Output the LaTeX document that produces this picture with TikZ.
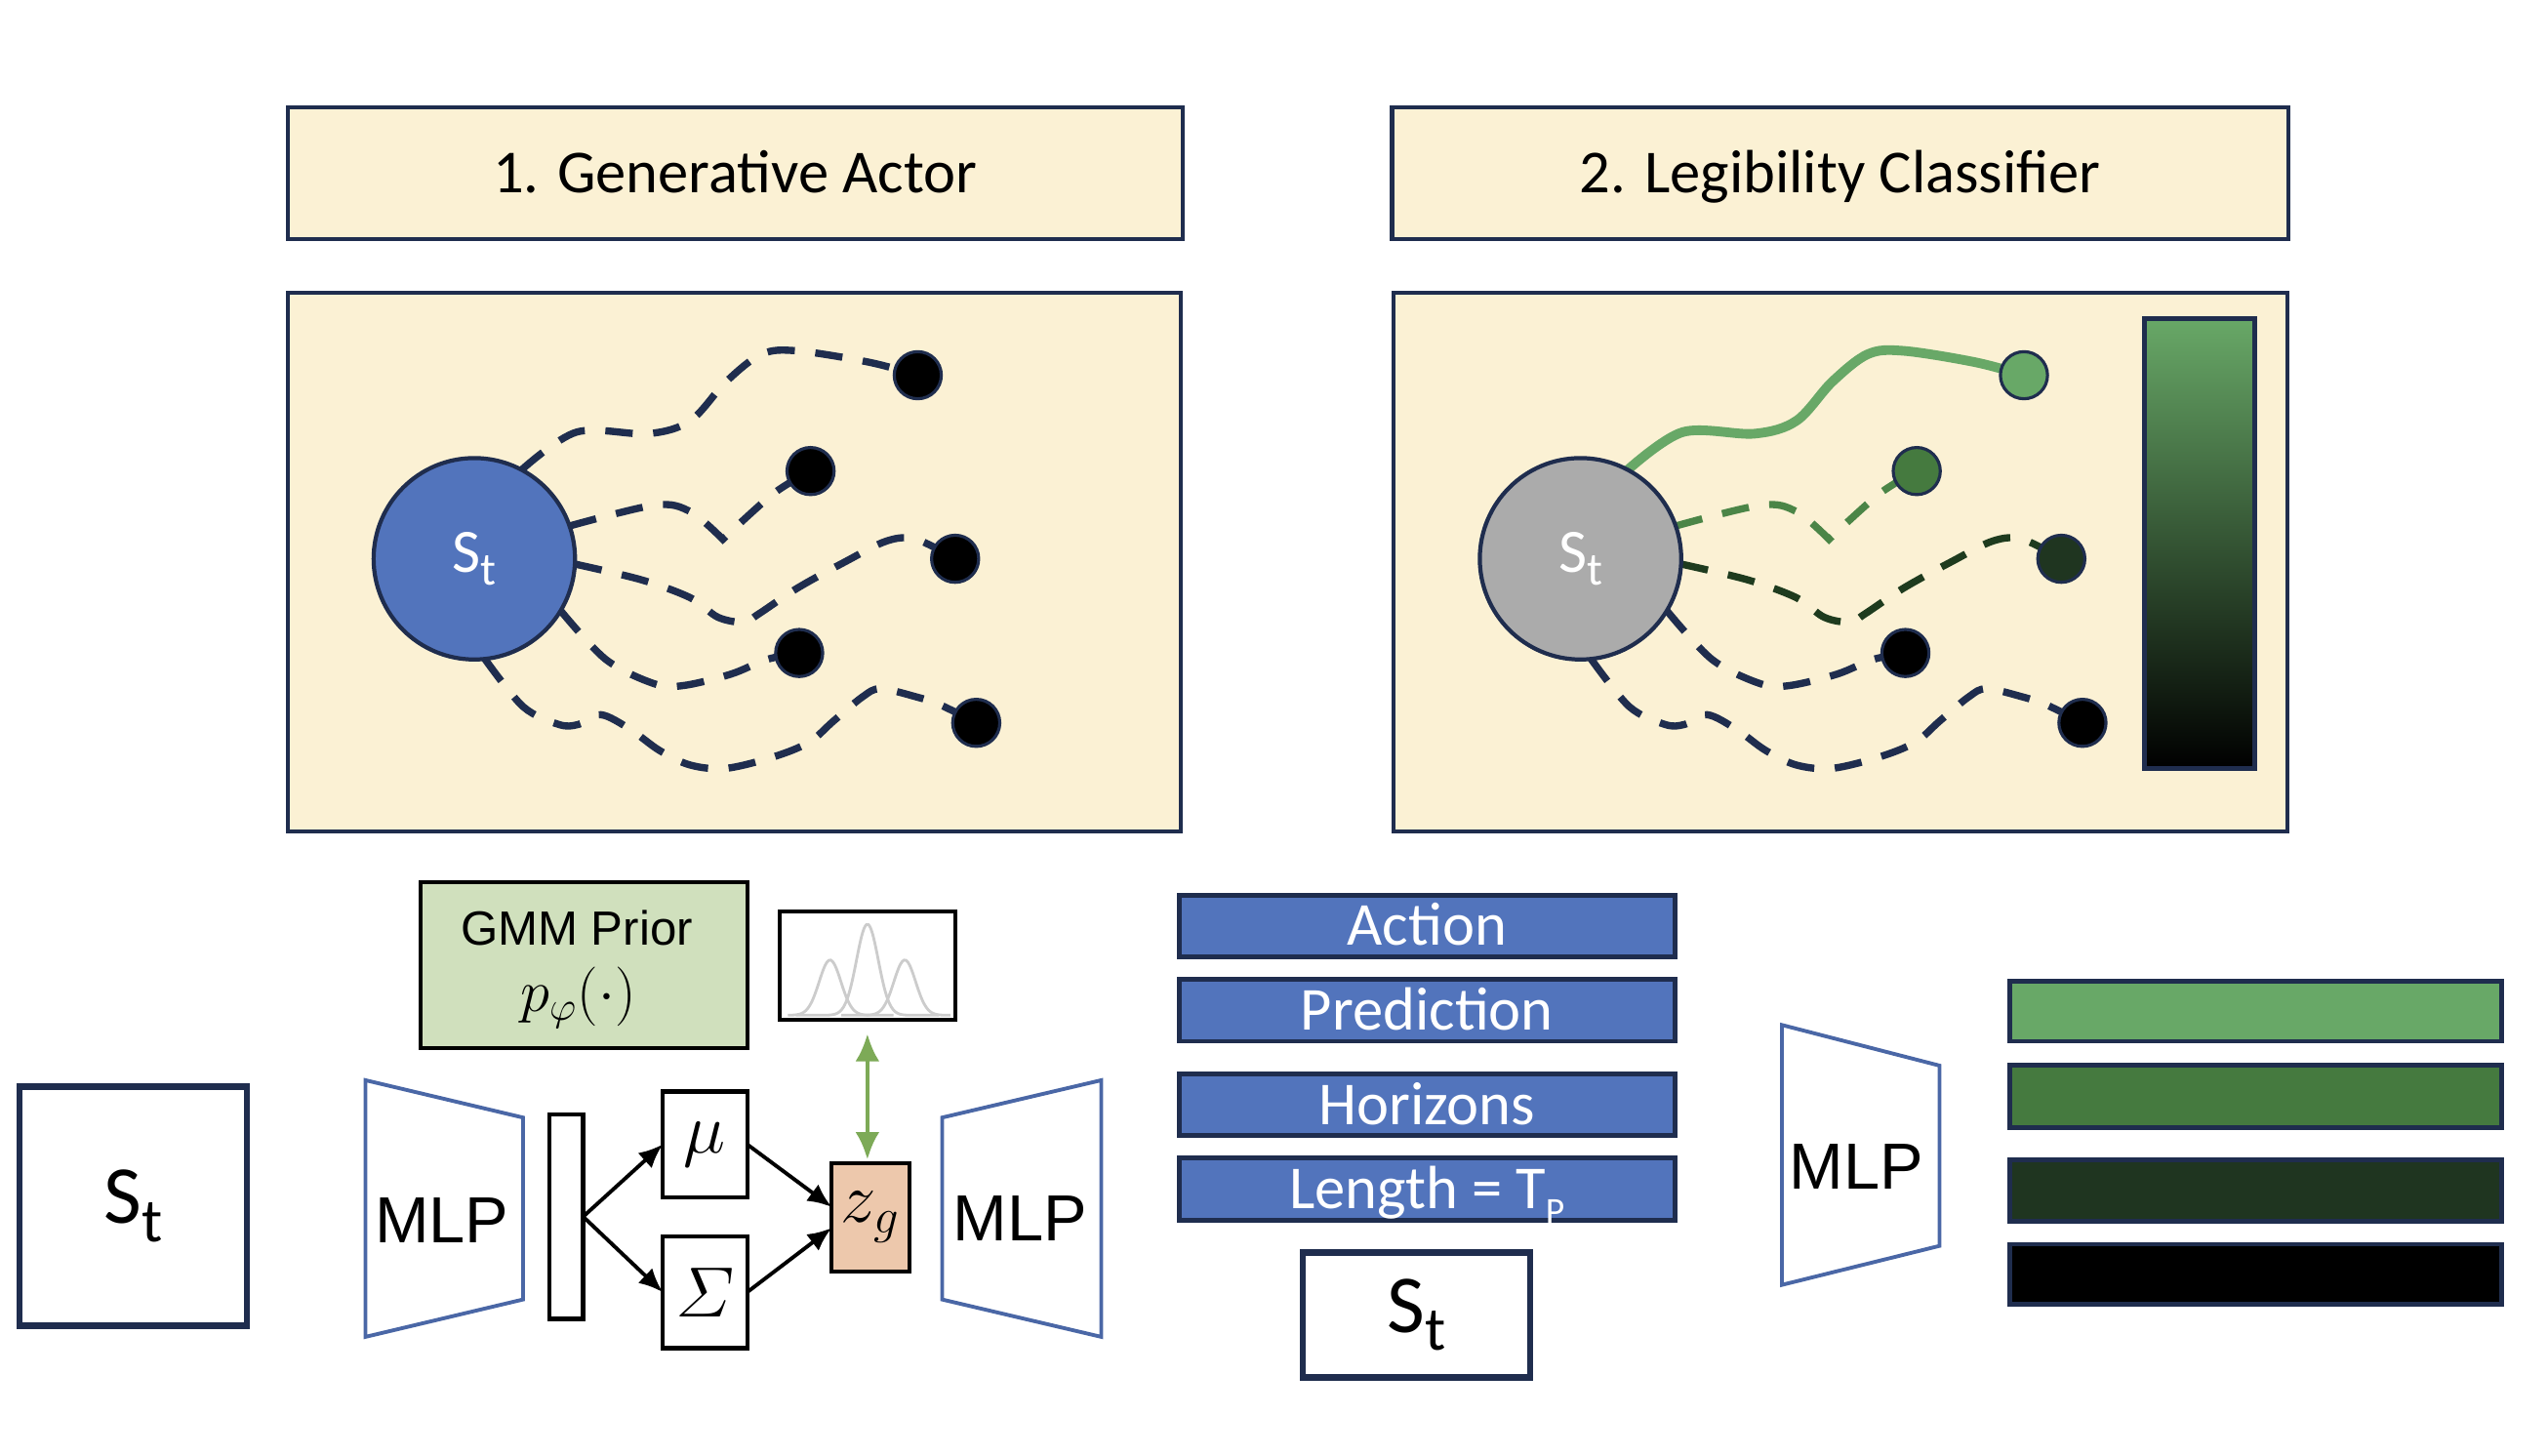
\documentclass[tikz,border=0pt]{standalone}
\usepackage{amsmath}
\usepackage{fontspec}
\setmainfont{Carlito}
\newfontfamily\arialf{Liberation Sans}
\usetikzlibrary{arrows.meta,calc}
\newcommand\U{0.016646cm}
\newcommand\Sb[2]{#1\raisebox{-0.45ex}{\scalebox{0.75}{#2}}}
\definecolor{navy}{HTML}{1F2D4E}
\definecolor{cream}{HTML}{FBF1D4}
\definecolor{stblue}{HTML}{5274BC}
\definecolor{stgray}{HTML}{ABABAB}
\definecolor{gA}{HTML}{68A867}
\definecolor{gB}{HTML}{457A3F}
\definecolor{gC}{HTML}{1F3520}
\definecolor{gBline}{HTML}{4B8547}
\definecolor{gCline}{HTML}{1E3B1E}
\definecolor{mlpblue}{HTML}{4A67A6}
\definecolor{gmmgreen}{HTML}{D0E0BD}
\definecolor{zpeach}{HTML}{EDC8AC}
\definecolor{arrowgreen}{HTML}{7DAA57}
\pgfdeclarelayer{back}
\pgfdeclarelayer{mid}
\pgfsetlayers{back,mid,main}
\newcommand\trajs[6]{%
\draw[t1] plot[smooth,tension=0.55] coordinates {(#1.62) (355,266) (399,267) (425,259) (447,235) (469,218) (491,216) (535,223) (#2)};
\draw[t2] plot[smooth,tension=0.55] coordinates {(#1.19) (403,311) (425,315) (445,332)} -- plot[smooth,tension=0.55] coordinates {(445,332) (476,304) (#3)};
\draw[t3] plot[smooth,tension=0.55] coordinates {(#1.-3) (395,357) (425,368) (442,380) (458,383) (467,378) (491,362) (520,346) (546,333) (564,332) (#4)};
\draw[t4] plot[smooth,tension=0.55] coordinates {(#1.-31) (373,406) (403,421) (421,422) (450,415) (472,406) (#5)};
\draw[t5] plot[smooth,tension=0.55] coordinates {(#1.-84) (322,435) (344,446) (356,446) (370,440) (388,449) (406,462) (425,471) (447,473) (476,466) (498,457) (513,444) (531,429) (542,424) (564,429) (579,434) (#6)};
}
\begin{document}
\begin{tikzpicture}[x=\U, y=-\U,
  every node/.style={inner sep=0pt, outer sep=0pt},
  titlebox/.style={draw=navy, fill=cream, line width=1.2pt, minimum height=81*\U, text height=11.5pt, text depth=0pt, font=\fontsize{17.8}{20}\selectfont},
  panel/.style={draw=navy, fill=cream, line width=1.2pt, minimum width=550*\U, minimum height=332*\U},
  state/.style={circle, draw=navy, line width=1.2pt, minimum size=124*\U, text=white, font=\fontsize{18}{20}\selectfont},
  dot/.style={circle, draw=navy, line width=0.9pt, fill=black, minimum size=29*\U},
  traj/.style={navy, line width=2.1pt, dash pattern=on 8pt off 6pt},
  stbox/.style={draw=navy, line width=1.9pt, fill=white, minimum width=140*\U, font=\fontsize{24}{26}\selectfont},
  mlp/.style={draw=mlpblue, line width=1.1pt, line join=miter},
  mlptext/.style={font=\arialf\fontsize{19}{21}\selectfont},
  blk/.style={draw=black, line width=1.2pt, fill=white},
  blkarrow/.style={black, line width=1.1pt, -{Latex[length=7pt,width=6pt]}},
  bluebar/.style={draw=navy, line width=1.4pt, fill=stblue, minimum width=305*\U, minimum height=38*\U, text height=11.5pt, text depth=0pt, text=white, font=\fontsize{17.8}{20}\selectfont},
  resbar/.style={draw=navy, line width=1.4pt, minimum width=303*\U, minimum height=37*\U}
]
\begin{pgfonlayer}{back}
\fill[white] (0,0) rectangle (1568,896);
\end{pgfonlayer}
\useasboundingbox (0,0) rectangle (1568,896);

% titles
\node[titlebox, minimum width=551*\U] (title1) at (452.5,106.5) {1. Generative Actor};
\node[titlebox, minimum width=552*\U] (title2) at (1133,106.5) {2. Legibility Classifier};

% panels
\begin{pgfonlayer}{back}
\node[panel] (panel1) at (452,346) {};
\node[panel] (panel2) at (1133,346) {};
\end{pgfonlayer}

% panel 1
\node[state, fill=stblue] (c1) at (292,344) {\Sb{S}{t}};
\node[dot] (a1) at (565,231) {};
\node[dot] (a2) at (499,290) {};
\node[dot] (a3) at (588,344) {};
\node[dot] (a4) at (492,402) {};
\node[dot] (a5) at (601,445) {};
\begin{pgfonlayer}{mid}
\begin{scope}[t1/.style={traj}, t2/.style={traj}, t3/.style={traj}, t4/.style={traj}, t5/.style={traj}]
\trajs{c1}{a1}{a2}{a3}{a4}{a5}
\end{scope}
\end{pgfonlayer}

% panel 2
\node[state, fill=stgray] (c2) at (973,344) {\Sb{S}{t}};
\node[dot, fill=gA] (b1) at (1246,231) {};
\node[dot, fill=gB] (b2) at (1180,290) {};
\node[dot, fill=gC] (b3) at (1269,344) {};
\node[dot] (b4) at (1173,402) {};
\node[dot] (b5) at (1282,445) {};
\begin{pgfonlayer}{mid}
\begin{scope}[xshift=681*\U,
  t1/.style={gA, line width=2.8pt, line cap=round},
  t2/.style={traj, gBline}, t3/.style={traj, gCline}, t4/.style={traj}, t5/.style={traj}]
\trajs{c2}{b1}{b2}{b3}{b4}{b5}
\end{scope}
\end{pgfonlayer}
\node[draw=navy, line width=1.5pt, top color=gA, bottom color=black, minimum width=68*\U, minimum height=277*\U] (gradbar) at (1354,334.5) {};

% bottom left: generative actor network
\node[stbox, minimum height=147*\U] (st1) at (82,742.5) {\Sb{S}{t}};
\draw[mlp] (225,665) -- (322,688) -- (322,800) -- (225,823) -- cycle;
\node[mlptext] (mlp1) at (272,751) {MLP};
\node[blk, minimum width=21*\U, minimum height=126*\U] (feat) at (348.5,749) {};
\node[blk, minimum width=52*\U, minimum height=65*\U, font=\fontsize{20}{22}\selectfont] (mu) at (434,704.5) {$\mu$};
\node[blk, minimum width=52*\U, minimum height=69*\U, font=\fontsize{20}{22}\selectfont] (sig) at (434,795.5) {$\varSigma$};
\node[blk, fill=zpeach, minimum width=48*\U, minimum height=67*\U, font=\fontsize{21}{23}\selectfont] (zg) at (536,749.5) {$z_g$};
\draw[blkarrow] (feat.east) -- (mu.west);
\draw[blkarrow] (feat.east) -- (sig.west);
\draw[blkarrow] (mu.east) -- (zg.165);
\draw[blkarrow] (sig.east) -- (zg.195);
\node[blk, fill=gmmgreen, minimum width=201*\U, minimum height=102*\U] (gmm) at (359.5,594) {};
\node[font=\arialf\fontsize{14}{16}\selectfont] (gmmt) at (355,571) {GMM Prior};
\node[font=\fontsize{16.5}{18}\selectfont] (gmmp) at (356,614) {$p_{\varphi}(\cdot)$};
\node[blk, minimum width=108*\U, minimum height=67*\U] (dist) at (534,594.5) {};
\begin{scope}
\clip (481,562) rectangle (587,627);
\draw[black!20, line width=0.8pt] plot[domain=490:578, samples=70, smooth] (\x, {625-56*exp(-((\x-534)^2)/90)});
\draw[black!20, line width=0.8pt] plot[domain=485:550, samples=60, smooth] (\x, {625-34*exp(-((\x-511)^2)/90)});
\draw[black!20, line width=0.8pt] plot[domain=518:585, samples=60, smooth] (\x, {625-34*exp(-((\x-557)^2)/90)});
\end{scope}
\draw[arrowgreen, line width=1.2pt, {Latex[length=8pt,width=7pt]}-{Latex[length=8pt,width=7pt]}, shorten <=4pt, shorten >=1pt] (dist.south) -- (dist.south |- zg.north);
\draw[mlp] (580,688) -- (678,665) -- (678,823) -- (580,800) -- cycle;
\node[mlptext] (mlp2) at (628,750) {MLP};

% middle: inputs of classifier
\node[bluebar] (act) at (878.5,570) {Action};
\node[bluebar] (pred) at (878.5,622) {Prediction};
\node[bluebar] (hor) at (878.5,680) {Horizons};
\node[bluebar] (len) at (878.5,732) {Length = T\raisebox{-0.5ex}{\scalebox{0.6}{P}}};
\node[stbox, minimum height=77*\U] (st2) at (872,809.5) {\Sb{S}{t}};

% classifier MLP and outputs
\draw[mlp] (1097,631) -- (1194,656) -- (1194,767) -- (1097,791) -- cycle;
\node[mlptext] (mlp3) at (1143,718) {MLP};
\node[resbar, fill=gA] (r1) at (1388.5,622.5) {};
\node[resbar, fill=gB, minimum height=38*\U] (r2) at (1388.5,675) {};
\node[resbar, fill=gC, minimum height=38*\U] (r3) at (1388.5,733) {};
\node[resbar, fill=black] (r4) at (1388.5,784.5) {};
\end{tikzpicture}
\end{document}
